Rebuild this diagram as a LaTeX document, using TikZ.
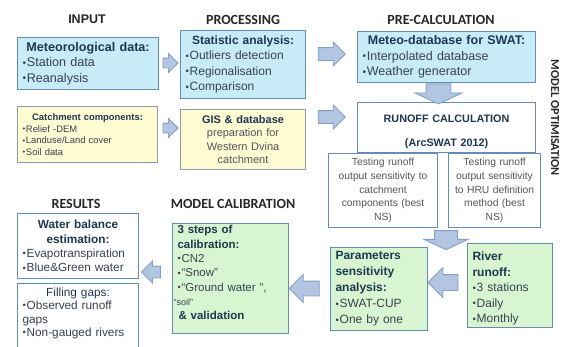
\documentclass[tikz,border=0pt]{standalone}
\usepackage{fontspec}
\usepackage{graphicx}
\setmainfont{Liberation Sans}
\newfontfamily\headfont{Carlito}
\usetikzlibrary{shapes.arrows}
\definecolor{cyanfill}{RGB}{199,236,248}
\definecolor{yelfill}{RGB}{255,251,210}
\definecolor{grnfill}{RGB}{215,245,208}
\definecolor{boxline}{RGB}{100,140,180}
\definecolor{yelline}{RGB}{140,155,175}
\definecolor{arrfill}{RGB}{178,198,226}
\definecolor{arrline}{RGB}{130,158,198}
\definecolor{titlecol}{RGB}{30,55,80}
\definecolor{itemcol}{RGB}{55,65,80}
\definecolor{greycol}{RGB}{85,85,90}
\newcommand{\bul}{\raisebox{0.1ex}{\scalebox{0.8}{\textbullet}}\kern0.8pt}

\begin{document}
\begin{tikzpicture}[x=1pt,y=1pt,yscale=-1,xscale=1,
  box/.style={draw=boxline, line width=1.1pt, anchor=north west, inner xsep=5pt, inner ysep=2pt, align=left, text=itemcol},
  cyanbox/.style={box, fill=cyanfill},
  yelbox/.style={box, fill=yelfill, draw=yelline},
  grnbox/.style={box, fill=grnfill},
  whitebox/.style={box, fill=white},
  headline/.style={font=\headfont\bfseries\fontsize{14}{16}\selectfont, text=black!85},
  blockarrow/.style={single arrow, draw=arrline, fill=arrfill, line width=0.9pt}]
\useasboundingbox (0,0) rectangle (563,346);
% Headings
\node[font=\bfseries\fontsize{12.5}{14}\selectfont, text=black!85] (hinput) at (87,19.5) {INPUT};
\node[headline] (hproc) at (243,20) {PROCESSING};
\node[headline] (hpre) at (441,20) {PRE-CALCULATION};
\node[headline] (hres) at (76,204) {RESULTS};
\node[headline] (hcal) at (233,204) {MODEL CALIBRATION};
\node[headline, font=\headfont\bfseries\fontsize{12.2}{14}\selectfont, rotate=-90] (hopt) at (555,118) {MODEL OPTIMISATION};
%Shape: Input boxes
\node[cyanbox, text width=131pt, minimum height=52pt, font=\fontsize{12.6}{15.5}\selectfont] (met) at (17,37)
  {{\centering\bfseries\color{titlecol}Meteorological data:\par}\bul Station data\\\bul Reanalysis};
\node[yelbox, text width=130pt, minimum height=56pt, font=\fontsize{9.4}{11.7}\selectfont] (catch) at (17,106)
  {{\centering\bfseries\fontsize{9.4}{11.7}\selectfont\color{titlecol}Catchment components:\par}\bul Relief -DEM\\\bul Landuse/Land cover\\\bul Soil data};
%Shape: Processing boxes
\node[cyanbox, text width=115pt, minimum height=68pt, font=\fontsize{12}{15.5}\selectfont] (stat) at (180,30)
  {{\centering\bfseries\color{titlecol}Statistic analysis:\par}\bul Outliers detection\\\bul Regionalisation\\\bul Comparison};
\node[yelbox, text width=115pt, minimum height=60pt, align=center, text=greycol, font=\fontsize{11}{13.5}\selectfont] (gis) at (180,109)
  {{\bfseries\color{titlecol}GIS \& database}\\preparation for\\Western Dvina\\catchment};
%Shape: Pre-calculation boxes
\node[cyanbox, text width=168pt, minimum height=51pt, font=\fontsize{12.5}{15.5}\selectfont] (mdb) at (357,31)
  {{\centering\bfseries\color{titlecol}Meteo-database for SWAT:\par}\bul Interpolated database\\\bul Weather generator};
\node[whitebox, text width=168pt, minimum height=50pt, align=center, text=titlecol, font=\bfseries\fontsize{10.8}{14}\selectfont] (runoff) at (357,102)
  {\rule{0pt}{16pt}RUNOFF CALCULATION\\[10pt](ArcSWAT 2012)};
\node[whitebox, text width=99pt, minimum height=74pt, align=center, text=greycol, font=\fontsize{10.3}{13.7}\selectfont] (test1) at (328,153)
  {Testing runoff\\output sensitivity to\\catchment\\components (best\\NS)};
\node[whitebox, text width=82pt, minimum height=74pt, align=center, text=greycol, font=\fontsize{10.3}{13.7}\selectfont] (test2) at (448,153)
  {Testing runoff\\output sensitivity\\to HRU definition\\method (best\\NS)};
%Shape: Calibration boxes
\node[grnbox, text width=87pt, minimum height=83pt, font=\fontsize{12}{16}\selectfont] (params) at (330,247)
  {{\bfseries\color{titlecol}Parameters\\sensitivity\\analysis:}\\\bul SWAT-CUP\\\bul One by one};
\node[grnbox, text width=75pt, minimum height=84pt, font=\fontsize{12}{15.5}\selectfont] (river) at (467,243)
  {\rule{0pt}{15pt}{\bfseries\color{titlecol}River\\runoff:}\\\bul 3 stations\\\bul Daily\\\bul Monthly};
\node[grnbox, text width=106pt, minimum height=110pt, font=\fontsize{11.5}{14.3}\selectfont] (calib) at (172,223)
  {{\bfseries\color{titlecol}3 steps of\\calibration:}\\\bul CN2\\\bul “Snow”\\\bul “Ground water ”,\\\hspace*{-4pt}{\fontsize{9}{14.3}\selectfont“soil”}\\\hspace*{1pt}{\bfseries\color{titlecol}\& validation}\rule[-12pt]{0pt}{0pt}};
%Shape: Result boxes
\node[whitebox, text width=111pt, minimum height=65pt, font=\fontsize{11.8}{14.3}\selectfont] (water) at (17,213)
  {{\centering\bfseries\color{titlecol}Water balance\\estimation:\par}\bul Evapotranspiration\\\bul Blue\&Green water};
\node[whitebox, text width=111pt, minimum height=66pt, font=\fontsize{11.8}{13.5}\selectfont] (gaps) at (17,283)
  {{\centering\color{titlecol}Filling gaps:\par}\bul Observed runoff\\gaps\\\bul Non-gauged rivers\rule[-9pt]{0pt}{0pt}};
%Block Arrows
\node[blockarrow, inner xsep=0pt, inner ysep=4.5pt, single arrow head extend=4.5pt, minimum height=15pt] (a1) at (168,63) {};
\node[blockarrow, inner xsep=0pt, inner ysep=4.5pt, single arrow head extend=4.5pt, minimum height=15pt] (a2) at (168,128) {};
\node[blockarrow, inner xsep=0pt, inner ysep=6pt, single arrow head extend=5.5pt, minimum height=27pt] (a3) at (328.5,54) {};
\node[blockarrow, inner xsep=0pt, inner ysep=6pt, single arrow head extend=5.5pt, minimum height=27pt] (a4) at (328.5,117) {};
\node[blockarrow, inner ysep=0pt, inner xsep=12pt, single arrow head extend=11pt, single arrow tip angle=130, minimum height=20pt, shape border rotate=270] (a5) at (438.5,91) {};
\node[blockarrow, inner ysep=0pt, inner xsep=11pt, single arrow head extend=10.5pt, single arrow tip angle=130, minimum height=19pt, shape border rotate=270] (a6) at (446,237.5) {};
\node[blockarrow, inner xsep=0pt, inner ysep=7.5pt, single arrow head extend=7pt, minimum height=30pt, shape border rotate=180] (a7) at (447,282.5) {};
\node[blockarrow, inner xsep=0pt, inner ysep=7pt, single arrow head extend=6.5pt, minimum height=30pt, shape border rotate=180] (a8) at (308,288.5) {};
\node[blockarrow, inner xsep=0pt, inner ysep=5.5pt, single arrow head extend=5pt, minimum height=19pt, shape border rotate=180] (a9) at (154,272) {};
\end{tikzpicture}
\end{document}
